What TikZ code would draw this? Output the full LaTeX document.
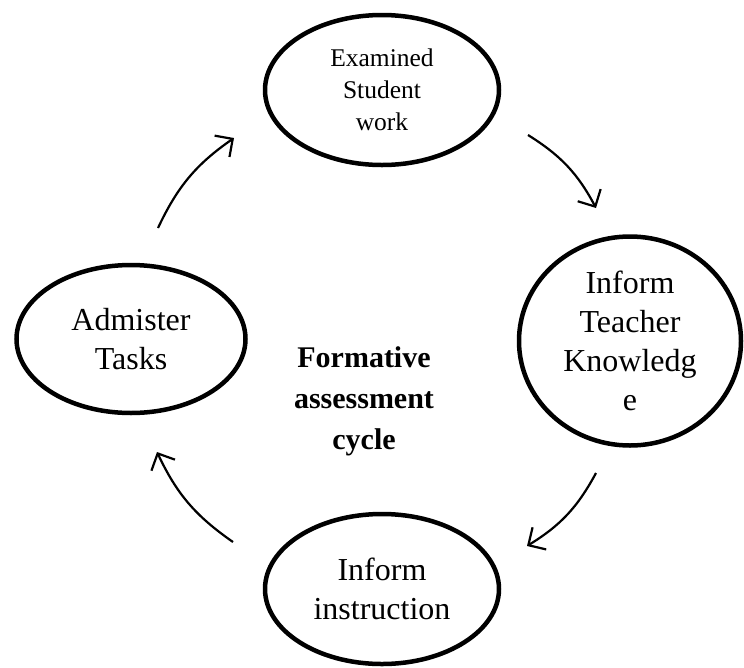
\documentclass[tikz,border=0pt]{standalone}
\usepackage{fontspec}
\setmainfont{Liberation Serif}
\usepackage{tikz}
\usetikzlibrary{shapes,arrows,positioning,calc,arrows.meta}

\begin{document}
\begin{tikzpicture}[x=1pt, y=-1pt,
    stage/.style={draw, ellipse, line width=4.5pt, inner sep=0pt, align=center,
        minimum width=234pt, minimum height=150pt, font=\fontsize{32}{39}\selectfont},
    cyc/.style={line width=2.2pt, -{Straight Barb[length=13pt,width=26pt]}, bend left=15}]
    \useasboundingbox (0,0) rectangle (744,667);

    % Stages
    \node[stage, font=\fontsize{25.5}{32}\selectfont] at (382,90) (exam) {Examined\\Student\\work};
    \node[stage, minimum width=222pt, minimum height=209pt] at (630,341) (know) {Inform\\Teacher\\Knowledg\\e};
    \node[stage, minimum width=229pt, minimum height=148pt] at (131,339) (admin) {Admister\\Tasks};
    \node[stage] at (382,589) (instr) {Inform\\instruction};

    % Title
    \node[font=\bfseries\fontsize{30}{41}\selectfont, align=center] at (364,401) (title) {Formative\\assessment\\cycle};

    % Arrow ends
    \coordinate (a1s) at (158,228);
    \coordinate (a1e) at (234,138);
    \coordinate (a2s) at (528,135);
    \coordinate (a2e) at (596,208);
    \coordinate (a3s) at (596,473);
    \coordinate (a3e) at (527,546);
    \coordinate (a4s) at (233,542);
    \coordinate (a4e) at (157,452);

    % Cycle arrows
    \draw[cyc] (a1s) to (a1e);
    \draw[cyc] (a2s) to (a2e);
    \draw[cyc] (a3s) to (a3e);
    \draw[cyc] (a4s) to (a4e);
\end{tikzpicture}
\end{document}
